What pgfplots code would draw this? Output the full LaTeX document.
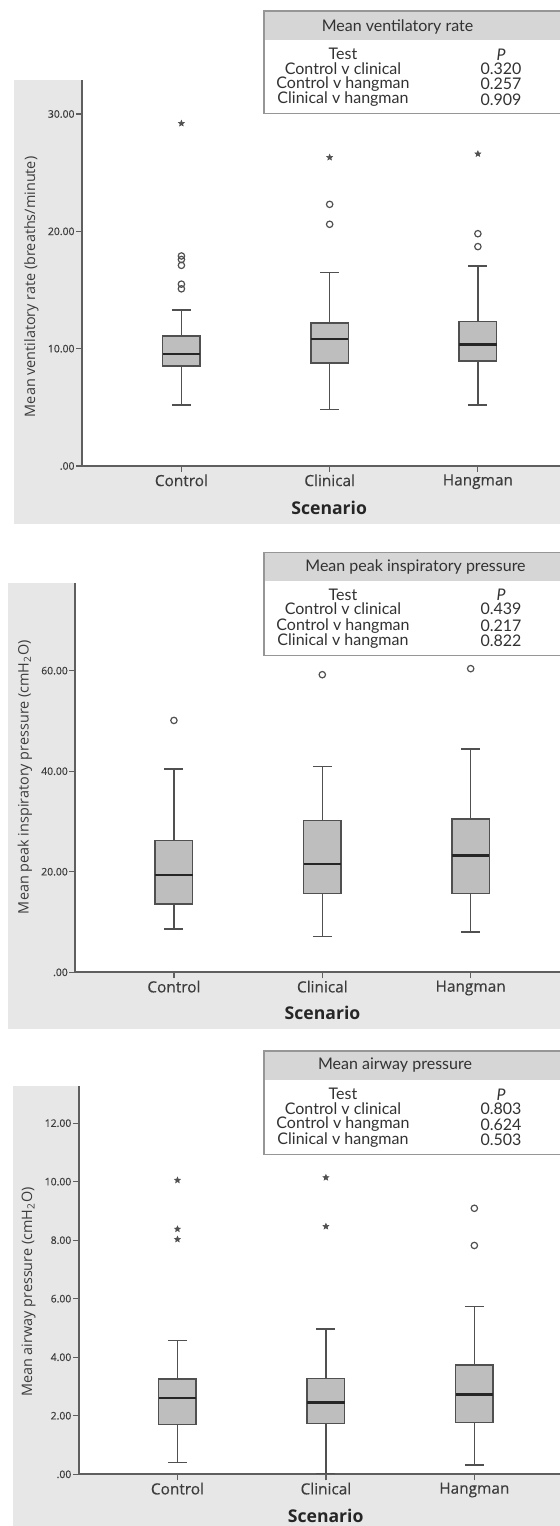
\documentclass[border=0pt]{standalone}
\usepackage{pgfplots}
\pgfplotsset{compat=1.18}
\usepgfplotslibrary{statistics}
\usepackage{fontspec}
\setmainfont{Open Sans}
\newfontfamily\lato{Lato}
\newfontfamily\osmed[FakeBold=0.35]{Open Sans}
\definecolor{panelbg}{RGB}{231,231,231}
\definecolor{bandbg}{RGB}{214,214,214}
\definecolor{tabline}{RGB}{150,150,150}
\definecolor{boxfill}{RGB}{190,190,190}
\definecolor{boxline}{RGB}{80,80,80}
\definecolor{axcol}{RGB}{95,95,95}
\definecolor{labcol}{RGB}{60,60,60}
\definecolor{tabtext}{RGB}{50,50,50}
\pgfdeclareplotmark{fstar}{%
  \pgfpathmoveto{\pgfpointpolar{90}{\pgfplotmarksize}}%
  \pgfpathlineto{\pgfpointpolar{126}{0.45\pgfplotmarksize}}%
  \pgfpathlineto{\pgfpointpolar{162}{\pgfplotmarksize}}%
  \pgfpathlineto{\pgfpointpolar{198}{0.45\pgfplotmarksize}}%
  \pgfpathlineto{\pgfpointpolar{234}{\pgfplotmarksize}}%
  \pgfpathlineto{\pgfpointpolar{270}{0.45\pgfplotmarksize}}%
  \pgfpathlineto{\pgfpointpolar{306}{\pgfplotmarksize}}%
  \pgfpathlineto{\pgfpointpolar{342}{0.45\pgfplotmarksize}}%
  \pgfpathlineto{\pgfpointpolar{18}{\pgfplotmarksize}}%
  \pgfpathlineto{\pgfpointpolar{54}{0.45\pgfplotmarksize}}%
  \pgfpathclose
  \pgfusepathqfillstroke}
\pgfplotsset{
  spss/.style={
    scale only axis, anchor=south west, clip=false,
    axis x line*=bottom, axis y line*=left,
    axis line style={draw=axcol, line width=0.9pt},
    axis background/.style={fill=white},
    tick align=outside, major tick length=3pt,
    tick style={draw=axcol, line width=0.6pt},
    ymin=0,
    xtick={1,2,3}, xticklabels={Control,Clinical,Hangman},
    xticklabel style={font=\osmed\fontsize{7.7pt}{9pt}\selectfont, text=labcol, inner sep=1pt},
    yticklabel style={font=\osmed\fontsize{5.2pt}{6pt}\selectfont, text=labcol, inner sep=0.6pt},
    xlabel={Scenario},
    xlabel style={font=\fontsize{8.8pt}{10pt}\selectfont\bfseries, text=black!85, anchor=center},
    ylabel style={font=\fontsize{7.2pt}{8.5pt}\selectfont, text=labcol, anchor=center},
    boxplot/draw direction=y,
    boxplot/box extend=0.253, boxplot/whisker extend=0.128,
    boxplot/every box/.style={fill=boxfill, draw=boxline, line width=0.8pt},
    boxplot/every median/.style={draw=black!85, line width=1.2pt},
    boxplot/every whisker/.style={draw=boxline, line width=0.8pt},
  },
  outc/.style={only marks, mark=o, mark size=1.6pt, mark options={draw=boxline, line width=0.6pt}},
  outs/.style={only marks, mark=fstar, mark size=1.5pt, mark options={draw=boxline, fill=boxline, line width=0.3pt}},
}
\newcommand{\tabfont}{\lato\fontsize{8pt}{9pt}\selectfont}
\begin{document}
\begin{tikzpicture}
\path[use as bounding box] (0,0) rectangle (280pt,763pt);
% panel backgrounds
\fill[panelbg] (6.95pt,501pt) rectangle (280pt,723pt);
\fill[panelbg] (3.95pt,248.5pt) rectangle (280pt,471.65pt);
\fill[panelbg] (6.25pt,0pt) rectangle (280pt,220.15pt);

% ---------- Panel 1 ----------
\begin{axis}[spss, at={(41.05pt,530pt)}, width=238.95pt, height=193pt,
  xmin=0.330, xmax=3.554, ymax=32.9,
  ytick={0,10,20,30}, yticklabels={.00,10.00,20.00,30.00},
  ylabel={Mean ventilatory rate (breaths/minute)},
  ylabel style={at={(axis description cs:-0.106,0.464)}},
  xlabel style={at={(axis description cs:0.517,-0.109)}}]
\addplot[boxplot prepared={draw position=1, lower whisker=5.2, lower quartile=8.53, median=9.57, upper quartile=11.08, upper whisker=13.3}] coordinates {};
\addplot[boxplot prepared={draw position=2, lower whisker=4.83, lower quartile=8.8, median=10.83, upper quartile=12.2, upper whisker=16.5}] coordinates {};
\addplot[boxplot prepared={draw position=3, lower whisker=5.2, lower quartile=8.95, median=10.37, upper quartile=12.3, upper whisker=17.05}] coordinates {};
\addplot[outc] coordinates {(1,17.9) (1,17.6) (1,17.1) (1,15.5) (1,15.1) (2,22.3) (2,20.6) (3,19.8) (3,18.7)};
\addplot[outs] coordinates {(1,29.2) (2,26.3) (3,26.6)};
\end{axis}

% ---------- Panel 2 ----------
\begin{axis}[spss, at={(37.7pt,276.85pt)}, width=242.3pt, height=194.8pt,
  xmin=0.336, xmax=3.602, ymax=77.5,
  ytick={0,20,40,60}, yticklabels={.00,20.00,40.00,60.00},
  ylabel={Mean peak inspiratory pressure (cmH\textsubscript{2}O)},
  ylabel style={at={(axis description cs:-0.104,0.501)}},
  xlabel style={at={(axis description cs:0.51,-0.105)}}]
\addplot[boxplot prepared={draw position=1, lower whisker=8.6, lower quartile=13.58, median=19.34, upper quartile=26.24, upper whisker=40.4}] coordinates {};
\addplot[boxplot prepared={draw position=2, lower whisker=7.1, lower quartile=15.7, median=21.5, upper quartile=30.2, upper whisker=40.95}] coordinates {};
\addplot[boxplot prepared={draw position=3, lower whisker=8.07, lower quartile=15.7, median=23.25, upper quartile=30.5, upper whisker=44.45}] coordinates {};
\addplot[outc] coordinates {(1,50.1) (2,59.2) (3,60.4)};
\end{axis}

% ---------- Panel 3 ----------
\begin{axis}[spss, at={(39.45pt,25.85pt)}, width=240.55pt, height=194.3pt,
  xmin=0.336, xmax=3.577, ymax=13.28,
  ytick={0,2,4,6,8,10,12}, yticklabels={.00,2.00,4.00,6.00,8.00,10.00,12.00},
  ylabel={Mean airway pressure (cmH\textsubscript{2}O)},
  ylabel style={at={(axis description cs:-0.1045,0.469)}},
  xlabel style={at={(axis description cs:0.513,-0.108)}}]
\addplot[boxplot prepared={draw position=1, lower whisker=0.40, lower quartile=1.70, median=2.60, upper quartile=3.25, upper whisker=4.57}] coordinates {};
\addplot[boxplot prepared={draw position=2, lower whisker=0.03, lower quartile=1.73, median=2.46, upper quartile=3.28, upper whisker=4.96}] coordinates {};
\addplot[boxplot prepared={draw position=3, lower whisker=0.32, lower quartile=1.77, median=2.73, upper quartile=3.73, upper whisker=5.74}] coordinates {};
\addplot[outs] coordinates {(1,10.05) (1,8.38) (1,8.03) (2,10.14) (2,8.47)};
\addplot[outc] coordinates {(3,9.09) (3,7.82)};
\end{axis}

% ---------- Tables ----------
% panel 1
\fill[white] (132pt,706.35pt) rectangle (281pt,757.5pt);
\fill[bandbg] (132pt,743pt) rectangle (281pt,757.5pt);
\draw[tabline, line width=0.6pt] (281pt,706.35pt) -- (132pt,706.35pt) -- (132pt,757.5pt) -- (281pt,757.5pt);
\node[font=\tabfont, text=tabtext] at (198.75pt,749.65pt) {Mean ventilatory rate};
\node[font=\tabfont, text=tabtext] at (171.5pt,735.85pt) {Test};
\node[font=\tabfont, text=tabtext] at (171.5pt,728.85pt) {Control v clinical};
\node[font=\tabfont, text=tabtext] at (171.5pt,721pt) {Control v hangman};
\node[font=\tabfont, text=tabtext] at (171.5pt,713.35pt) {Clinical v hangman};
\node[font=\tabfont, text=tabtext] at (250.5pt,735.85pt) {\itshape P};
\node[font=\tabfont, text=tabtext] at (250.5pt,728.85pt) {0.320};
\node[font=\tabfont, text=tabtext] at (250.5pt,721pt) {0.257};
\node[font=\tabfont, text=tabtext] at (250.5pt,713.35pt) {0.909};
% panel 2
\fill[white] (132pt,435.15pt) rectangle (281pt,486.85pt);
\fill[bandbg] (132pt,472.5pt) rectangle (281pt,486.85pt);
\draw[tabline, line width=0.6pt] (281pt,435.15pt) -- (132pt,435.15pt) -- (132pt,486.85pt) -- (281pt,486.85pt);
\node[font=\tabfont, text=tabtext] at (207.75pt,479.65pt) {Mean peak inspiratory pressure};
\node[font=\tabfont, text=tabtext] at (171.5pt,465.5pt) {Test};
\node[font=\tabfont, text=tabtext] at (171.5pt,458.5pt) {Control v clinical};
\node[font=\tabfont, text=tabtext] at (171.5pt,450.15pt) {Control v hangman};
\node[font=\tabfont, text=tabtext] at (171.5pt,442.5pt) {Clinical v hangman};
\node[font=\tabfont, text=tabtext] at (250.5pt,465.5pt) {\itshape P};
\node[font=\tabfont, text=tabtext] at (250.5pt,458.5pt) {0.439};
\node[font=\tabfont, text=tabtext] at (250.5pt,450.15pt) {0.217};
\node[font=\tabfont, text=tabtext] at (250.5pt,442.5pt) {0.822};
% panel 3
\fill[white] (132pt,185.85pt) rectangle (281pt,237.5pt);
\fill[bandbg] (132pt,223pt) rectangle (281pt,237.5pt);
\draw[tabline, line width=0.6pt] (281pt,185.85pt) -- (132pt,185.85pt) -- (132pt,237.5pt) -- (281pt,237.5pt);
\node[font=\tabfont, text=tabtext] at (197.5pt,230.5pt) {Mean airway pressure};
\node[font=\tabfont, text=tabtext] at (171.5pt,215.85pt) {Test};
\node[font=\tabfont, text=tabtext] at (171.5pt,208.85pt) {Control v clinical};
\node[font=\tabfont, text=tabtext] at (171.5pt,200.85pt) {Control v hangman};
\node[font=\tabfont, text=tabtext] at (171.5pt,193pt) {Clinical v hangman};
\node[font=\tabfont, text=tabtext] at (250.5pt,215.85pt) {\itshape P};
\node[font=\tabfont, text=tabtext] at (250.5pt,208.85pt) {0.803};
\node[font=\tabfont, text=tabtext] at (250.5pt,200.85pt) {0.624};
\node[font=\tabfont, text=tabtext] at (250.5pt,193pt) {0.503};
\end{tikzpicture}
\end{document}
